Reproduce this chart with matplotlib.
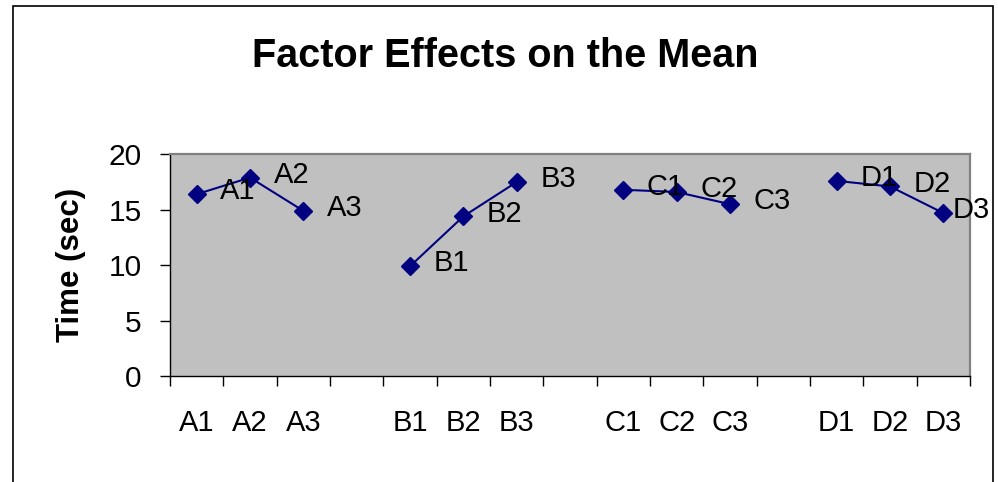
import numpy as np
import matplotlib
matplotlib.use('Agg')
import matplotlib.pyplot as plt
from matplotlib.patches import Rectangle
from matplotlib.ticker import FixedLocator

# Factor levels and mean time (sec)
factors = ['A', 'B', 'C', 'D']
levels = [['A1', 'A2', 'A3'], ['B1', 'B2', 'B3'], ['C1', 'C2', 'C3'], ['D1', 'D2', 'D3']]
means_a = [16.4, 17.9, 14.9]
means_b = [9.9, 14.4, 17.5]
means_c = [16.8, 16.6, 15.5]
means_d = [17.6, 17.1, 14.7]
y_ticks = [0, 5, 10, 15, 20]

plt.rcParams['font.family'] = ['Liberation Sans', 'DejaVu Sans']

fig = plt.figure(figsize=(9.98, 4.82), dpi=100)
ax = fig.add_axes([170 / 998, 1 - 376 / 482, 800 / 998, (376 - 154.3) / 482])
ax.set_facecolor('#c0c0c0')

navy = '#000080'
all_means = [means_a, means_b, means_c, means_d]
tick_pos = []
tick_lab = []
point_labels = []
for g, (labs, vals) in enumerate(zip(levels, all_means)):
  x = np.arange(len(vals)) + g * (len(vals) + 1)
  ax.plot(x, vals, color=navy, lw=1.5, marker='D', ms=9.5,
          markerfacecolor=navy, markeredgecolor=navy, zorder=3)
  for xi, yi, lab in zip(x, vals, labs):
    t = ax.annotate(lab, (xi, yi), xytext=(17, 2), textcoords='offset points',
                    ha='left', va='center', fontsize=21, color='black', zorder=4)
    point_labels.append(t)
  tick_pos.extend(x)
  tick_lab.extend(labs)

n_cat = tick_pos[-1] + 1
ax.set_xlim(-0.5, n_cat - 0.5)
ax.set_ylim(0, 20)
ax.set_xticks(tick_pos)
ax.set_xticklabels(tick_lab, fontsize=21)
ax.xaxis.set_minor_locator(FixedLocator(np.arange(-0.5, n_cat, 1.0)))
ax.tick_params(axis='x', which='major', length=0, pad=24)
ax.tick_params(axis='x', which='minor', length=7.5, width=1, direction='out', color='black')
ax.set_yticks(y_ticks)
ax.tick_params(axis='y', labelsize=21.5, length=7.5, width=1, direction='out', pad=13)

for side in ['top', 'right']:
  ax.spines[side].set_color('#808080')
  ax.spines[side].set_linewidth(1.6)
for side in ['left', 'bottom']:
  ax.spines[side].set_color('black')
  ax.spines[side].set_linewidth(1)

fig.text(505 / 998, 1 - 66.7 / 482, 'Factor Effects on the Mean', ha='center', va='baseline',
         fontsize=28.5, fontweight='bold')
fig.text(71 / 998, 1 - 265 / 482, 'Time (sec)', ha='center', va='center', rotation=90,
         fontsize=22.5, fontweight='bold')

# outer chart frame (open at the bottom)
fig.patches.append(Rectangle((13 / 998, -0.1), 980 / 998, 1.1 - 5.5 / 482, transform=fig.transFigure,
                             fill=False, edgecolor='black', lw=1.2))

# keep point labels inside the frame, like the spreadsheet does
fig.canvas.draw()
renderer = fig.canvas.get_renderer()
for t in point_labels:
  bb = t.get_window_extent(renderer)
  limit = 990.0
  if bb.x1 > limit:
    dx, dy = t.xyann
    t.xyann = (dx - (bb.x1 - limit) * 72 / fig.dpi, dy)

fig.savefig('out.png', dpi=100)
